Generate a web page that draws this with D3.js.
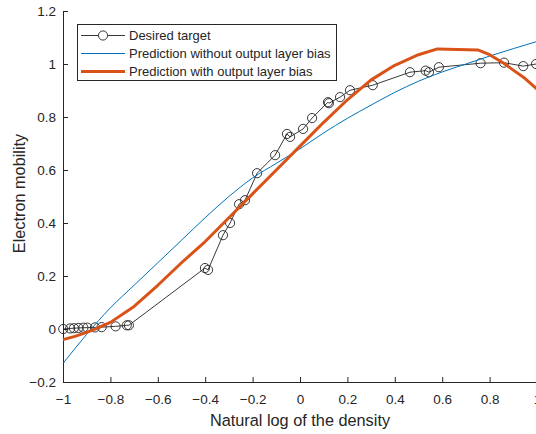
<!DOCTYPE html>
<html lang="en">
<head>
    <meta charset="UTF-8">
    <title>Electron mobility</title>
    <script src="https://d3js.org/d3.v7.min.js"></script>
    <style>
        body { margin: 0; background: #fff; }
        text { font-family: "Liberation Sans", Arial, sans-serif; fill: #262626; }
    </style>
</head>
<body>
    <svg id="chart"></svg>
    <script>
        const width = 536;
        const height = 434;

        // desired target (measured samples)
        const targetX = [-0.999, -0.970, -0.954, -0.935, -0.914, -0.897, -0.865, -0.837, -0.778, -0.731, -0.722,
            -0.401, -0.388, -0.325, -0.295, -0.257, -0.232, -0.181, -0.105, -0.055, -0.042, 0.013, 0.051,
            0.118, 0.122, 0.169, 0.211, 0.307, 0.464, 0.530, 0.544, 0.586, 0.762, 0.861, 0.942, 0.996];
        const targetY = [0.000, 0.002, 0.003, 0.004, 0.005, 0.005, 0.006, 0.007, 0.010, 0.014, 0.014,
            0.230, 0.223, 0.354, 0.400, 0.471, 0.486, 0.588, 0.656, 0.736, 0.725, 0.755, 0.796,
            0.856, 0.852, 0.875, 0.901, 0.920, 0.969, 0.975, 0.969, 0.988, 1.003, 1.005, 0.992, 1.000];

        // network prediction without output layer bias
        const noBiasX = [-1, -0.9, -0.8, -0.7, -0.6, -0.5, -0.4, -0.3, -0.2, -0.1, 0, 0.1, 0.2, 0.3, 0.4, 0.5, 0.6, 0.7, 0.8, 0.9, 1.0];
        const noBiasY = [-0.13, -0.02, 0.08, 0.165, 0.25, 0.335, 0.42, 0.50, 0.57, 0.625, 0.68, 0.74, 0.795, 0.845, 0.893, 0.935, 0.97, 1.0, 1.03, 1.058, 1.085];

        // network prediction with output layer bias
        const biasX = [-1, -0.95, -0.9, -0.85, -0.8, -0.7, -0.6, -0.5, -0.4, -0.3, -0.2, -0.1, 0, 0.1, 0.2, 0.3, 0.4, 0.5, 0.58, 0.75, 0.8, 0.86, 0.9, 0.95, 1.0];
        const biasY = [-0.04, -0.028, -0.013, 0.005, 0.025, 0.085, 0.165, 0.25, 0.33, 0.42, 0.51, 0.60, 0.69, 0.78, 0.865, 0.94, 0.995, 1.035, 1.057, 1.053, 1.035, 1.003, 0.977, 0.945, 0.905];

        const xTicks = [-1, -0.8, -0.6, -0.4, -0.2, 0, 0.2, 0.4, 0.6, 0.8, 1];
        const yTicks = [-0.2, 0, 0.2, 0.4, 0.6, 0.8, 1, 1.2];
        const legendLabels = ["Desired target", "Prediction without output layer bias", "Prediction with output layer bias"];

        const blue = "#0072BD";
        const orange = "#D95319";

        const margin = { left: 63, right: -1, top: 11, bottom: 52 };

        const svg = d3.select("#chart")
            .attr("width", width)
            .attr("height", height);

        const x = d3.scaleLinear().domain([-1, 1]).range([margin.left, width - margin.right]);
        const y = d3.scaleLinear().domain([-0.2, 1.2]).range([height - margin.bottom, margin.top]);

        const xAxis = svg.append("g")
            .attr("transform", `translate(0,${height - margin.bottom})`)
            .call(d3.axisBottom(x).tickValues(xTicks).tickSizeInner(-5).tickSizeOuter(0).tickPadding(12)
                .tickFormat(d => d3.format("")(+d.toFixed(1))));
        const yAxis = svg.append("g")
            .attr("transform", `translate(${margin.left},0)`)
            .call(d3.axisLeft(y).tickValues(yTicks).tickSizeInner(-5).tickSizeOuter(0).tickPadding(7)
                .tickFormat(d => d3.format("")(+d.toFixed(1))));

        [xAxis, yAxis].forEach(g => {
            g.selectAll("path, line").attr("stroke", "#262626");
            g.selectAll("text").style("font-size", "13.5px").attr("fill", "#3a3a3a")
                .style("font-family", "'Liberation Sans', Arial, sans-serif");
        });

        svg.append("text")
            .attr("x", x(0))
            .attr("y", 426)
            .attr("text-anchor", "middle")
            .attr("fill", "#333")
            .style("font-size", "16.3px")
            .text("Natural log of the density");

        svg.append("text")
            .attr("transform", "translate(25,193.5) rotate(-90)")
            .attr("text-anchor", "middle")
            .attr("fill", "#333")
            .style("font-size", "16.3px")
            .text("Electron mobility");

        const line = d3.line().x(d => x(d[0])).y(d => y(d[1]));

        const noBias = noBiasX.map((v, i) => [v, noBiasY[i]]);
        const bias = biasX.map((v, i) => [v, biasY[i]]);
        const target = targetX.map((v, i) => [v, targetY[i]]);

        svg.append("path")
            .datum(target)
            .attr("d", line)
            .attr("fill", "none")
            .attr("stroke", "#222")
            .attr("stroke-width", 0.9);

        svg.append("g")
            .selectAll("circle")
            .data(target)
            .enter()
            .append("circle")
            .attr("cx", d => x(d[0]))
            .attr("cy", d => y(d[1]))
            .attr("r", 4.6)
            .attr("fill", "none")
            .attr("stroke", "#222")
            .attr("stroke-width", 0.9);

        svg.append("path")
            .datum(noBias)
            .attr("d", d3.line().x(d => x(d[0])).y(d => y(d[1])).curve(d3.curveMonotoneX))
            .attr("fill", "none")
            .attr("stroke", blue)
            .attr("stroke-width", 1);

        svg.append("path")
            .datum(bias)
            .attr("d", line)
            .attr("fill", "none")
            .attr("stroke", orange)
            .attr("stroke-width", 3)
            .attr("stroke-linejoin", "round");

        // legend
        const legend = svg.append("g").attr("transform", "translate(77,24)");
        legend.append("rect")
            .attr("x", 0.5).attr("y", 0.5)
            .attr("width", 259).attr("height", 56)
            .attr("fill", "#fff")
            .attr("stroke", "#262626")
            .attr("stroke-width", 1);

        const legendColors = ["#222", blue, orange];
        const legendWidths = [0.9, 1, 3];
        legendLabels.forEach((label, i) => {
            const ly = 11.5 + i * 18;
            legend.append("line")
                .attr("x1", 4).attr("x2", 48)
                .attr("y1", ly).attr("y2", ly)
                .attr("stroke", legendColors[i])
                .attr("stroke-width", legendWidths[i]);
            if (i === 0) {
                legend.append("circle")
                    .attr("cx", 26).attr("cy", ly).attr("r", 4.6)
                    .attr("fill", "#fff").attr("stroke", "#222").attr("stroke-width", 0.9);
            }
            legend.append("text")
                .attr("x", 52).attr("y", ly + 4.5)
                .style("font-size", "13px")
                .text(label);
        });
    </script>
</body>
</html>
